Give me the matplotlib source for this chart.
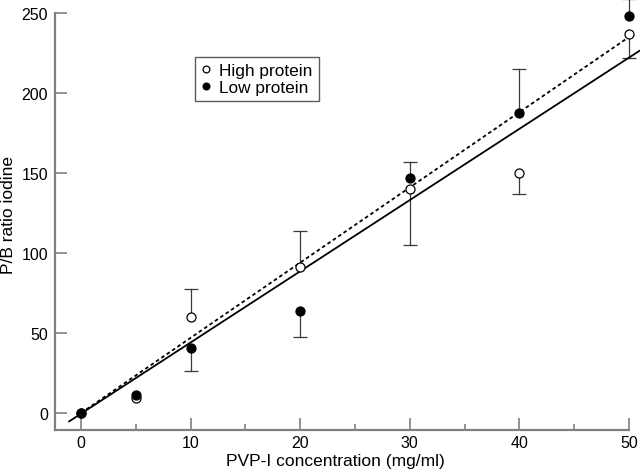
import matplotlib
matplotlib.use("Agg")
import matplotlib.pyplot as plt
import numpy as np

plt.rcParams['font.family'] = ['Liberation Sans', 'DejaVu Sans']

conc = np.array([0, 5, 10, 20, 30, 40, 50])

# high protein (open circles)
high = np.array([0, 9.2, 60.2, 91.5, 140, 150, 237])
high_lo = np.array([0, 0, 0, 0, 35, 13, 15])
high_hi = np.array([0, 0, 17.5, 22, 0, 0, 0])

# low protein (filled circles)
low = np.array([0, 11.2, 40.4, 64, 146.7, 187.8, 248])
low_lo = np.array([0, 0, 14, 16.7, 0, 0, 0])
low_hi = np.array([0, 0, 0, 0, 10, 27.3, 11])

# regression lines
solid_x = [-1.07, 51]
solid_slope, solid_icpt = 4.45, -0.4
dot_x = [0, 50]
dot_slope, dot_icpt = 4.7, 0.0

fig = plt.figure(figsize=(6.4, 4.77), dpi=100)
ax = fig.add_axes([0.0859, 0.097, 0.8969, 0.8737])

sx = np.array(solid_x)
ax.plot(sx, solid_slope * sx + solid_icpt, color='black', lw=1.3, clip_on=False, zorder=2)
dx = np.array(dot_x)
ax.plot(dx, dot_slope * dx + dot_icpt, color='black', lw=1.3, ls=(0, (2, 1.6)), clip_on=False, zorder=2)


def one_sided(y, lo, hi):
    # only draw the side of the bar that exists
    for xi, yi, l, h in zip(conc, y, lo, hi):
        for d in (-l, h):
            if d == 0:
                continue
            ax.plot([xi, xi], [yi, yi + d], color='#3a3a3a', lw=0.9, clip_on=False, zorder=1)
            ax.plot([xi], [yi + d], marker='_', ms=9.5, mew=0.9, color='#3a3a3a', ls='none',
                    clip_on=False, zorder=1)


one_sided(high, high_lo, high_hi)
one_sided(low, low_lo, low_hi)

ax.plot(conc, high, 'o', ms=6.5, mfc='white', mec='black', mew=0.9, ls='none',
        clip_on=False, zorder=3, label='High protein')
ax.plot(conc, low, 'o', ms=6.5, mfc='black', mec='black', mew=0.9, ls='none',
        clip_on=False, zorder=4, label='Low protein')

ax.set_xlim(-2.37, 50)
ax.set_ylim(-10.4, 250)
ax.set_xticks([0, 10, 20, 30, 40, 50])
ax.set_xticks([5, 15, 25, 35, 45], minor=True)
ax.set_yticks([0, 50, 100, 150, 200, 250])

for s in ['top', 'right']:
    ax.spines[s].set_visible(False)
for s in ['left', 'bottom']:
    ax.spines[s].set_color('#808080')
    ax.spines[s].set_linewidth(1.6)

ax.tick_params(axis='both', which='major', direction='in', length=8.5, width=1.2,
               color='#808080', labelsize=11.5, labelcolor='black')
ax.tick_params(axis='x', which='minor', direction='in', length=4.5, width=1.2, color='#808080')
ax.tick_params(axis='x', which='major', pad=4)
ax.tick_params(axis='y', which='major', pad=5)

ax.set_xlabel('PVP-I concentration (mg/ml)', fontsize=12.5)
ax.set_ylabel('P/B ratio iodine', fontsize=12.5)
ax.xaxis.set_label_coords(0.488, -0.055)
ax.yaxis.set_label_coords(-0.068, 0.518)

leg = ax.legend(loc='upper left', bbox_to_anchor=(195 / 640, 1 - 58 / 477),
                bbox_transform=fig.transFigure, borderaxespad=0, fontsize=12.4,
                fancybox=False, frameon=True, markerscale=0.75, handlelength=0.6,
                handletextpad=0.45, borderpad=0.35, labelspacing=0.12)
leg.get_frame().set_edgecolor('#333333')
leg.get_frame().set_linewidth(1.0)

fig.savefig('out.png', dpi=100)
